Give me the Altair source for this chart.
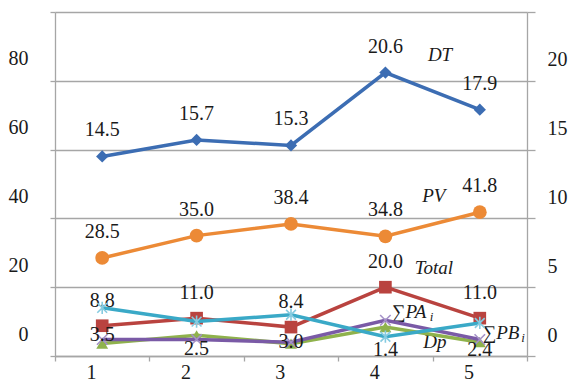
import altair as alt
import pandas as pd

# --- data -------------------------------------------------------------
steps = [1, 2, 3, 4, 5]
dt = [14.5, 15.7, 15.3, 20.6, 17.9]        # right axis
pv = [28.5, 35.0, 38.4, 34.8, 41.8]        # left axis
total = [8.8, 11.0, 8.4, 20.0, 11.0]       # left axis
sum_pb = [3.5, 2.5, 3.0, 1.4, 2.4]         # right axis
sum_pa = [1.2, 1.2, 1.0, 2.6, 1.2]         # right axis
dp = [0.9, 1.5, 0.9, 2.1, 1.0]             # right axis

left_ticks = [0, 20, 40, 60, 80, 100]
right_ticks = [0, 5, 10, 15, 20, 25]
x_edges = [0.5, 1.5, 2.5, 3.5, 4.5, 5.5]

# series name annotations (left-axis coordinates)
ann_text = ["DT", "PV", "Total", "\u2211PA", "Dp", "\u2211PB"]
ann_x = [4.45, 4.39, 4.31, 4.07, 4.40, 5.03]
ann_y = [87.5, 46.5, 25.6, 12.8, 4.1, 6.7]
sub_text = ["i", "i"]
sub_x = [4.47, 5.44]
sub_y = [11.2, 5.1]

# --- style ------------------------------------------------------------
SERIF = "Liberation Serif"
GRID = "#a6a6a6"
INK = "#1a1a1a"

x_axis = alt.Axis(
    values=x_edges,
    labelExpr="datum.value < 5 ? format(datum.value + 0.5, 'd') : ''",
    labelOffset=36, labelPadding=1, labelFlush=False, labelOverlap=False,
    tickSize=5, tickColor=GRID, tickWidth=1.3,
    domainColor=GRID, domainWidth=1.3, grid=False, title=None,
    labelFont=SERIF, labelFontSize=20, labelColor=INK,
)
left_axis = alt.Axis(
    values=left_ticks,
    labelExpr="datum.value == 100 ? '' : datum.label",
    grid=True, gridColor=GRID, gridWidth=1.3,
    tickSize=5, tickColor=GRID, tickWidth=1.3,
    domainColor=GRID, domainWidth=1.3,
    labelPadding=22, labelOffset=-22, labelOverlap=False,
    title=None, labelFont=SERIF, labelFontSize=20, labelColor=INK,
)
right_axis = alt.Axis(
    orient="right", values=right_ticks,
    labelExpr="datum.value == 25 ? '' : datum.label",
    grid=False, tickSize=8, tickColor=GRID, tickWidth=1.3,
    domainColor=GRID, domainWidth=1.3,
    labelPadding=12, labelOffset=-21, labelOverlap=False,
    title=None, labelFont=SERIF, labelFontSize=20, labelColor=INK,
)

left_scale = alt.Scale(domain=[0, 100], nice=False)
right_scale = alt.Scale(domain=[0, 25], nice=False)
x_enc = alt.X("step:Q", scale=alt.Scale(domain=[0.5, 5.5], nice=False, zero=False), axis=x_axis)
y_left = alt.Y("value:Q", scale=left_scale, axis=left_axis)
y_right = alt.Y("value:Q", scale=right_scale, axis=right_axis)

STAR = "M0,-1L0,1M-0.8,-0.8L0.8,0.8M-0.8,0.8L0.8,-0.8"
XMARK = "M-1,-1L1,1M-1,1L1,-1"


def series(values, color, y_enc, shape, size, filled, marker_color=None,
           label_dy=None, below=None):
    df = pd.DataFrame({"step": steps, "value": values})
    base = alt.Chart(df).encode(x=x_enc, y=y_enc)
    layers = [base.mark_line(color=color, strokeWidth=3.5)]
    mc = marker_color or color
    if filled:
        layers.append(base.mark_point(shape=shape, size=size, filled=True,
                                      color=mc, opacity=1))
    else:
        layers.append(base.mark_point(shape=shape, size=size, filled=False,
                                      stroke=mc, strokeWidth=1.6, opacity=1))
    text_style = dict(baseline="middle", font=SERIF, fontSize=20, color=INK)
    if label_dy is not None:
        layers.append(base.mark_text(dy=label_dy, **text_style)
                      .encode(text=alt.Text("value:Q", format=".1f")))
    if below is not None:
        # labels sit under the points, kept inside the plot's lower edge
        scale, axis = below
        layers.append(
            alt.Chart(df)
            .transform_calculate(pos="max(datum.value - 2.0, 0.45)")
            .mark_text(**text_style)
            .encode(x=x_enc,
                    y=alt.Y("pos:Q", scale=scale, axis=axis),
                    text=alt.Text("value:Q", format=".1f"))
        )
    return layers


ann_df = pd.DataFrame({"step": ann_x, "value": ann_y, "label": ann_text})
sub_df = pd.DataFrame({"step": sub_x, "value": sub_y, "label": sub_text})
annotations = [
    alt.Chart(ann_df).mark_text(align="left", baseline="middle", font=SERIF,
                                fontSize=19, fontStyle="italic", color=INK)
    .encode(x=x_enc, y=y_left, text="label:N"),
    alt.Chart(sub_df).mark_text(align="left", baseline="middle", font=SERIF,
                                fontSize=13, fontStyle="italic", color=INK)
    .encode(x=x_enc, y=y_left, text="label:N"),
]

left_group = alt.layer(
    *series(pv, "#ec8a36", y_left, "circle", 190, True, label_dy=-26),
    *series(total, "#b9433f", y_left, "square", 160, True, label_dy=-25),
    *annotations,
)
right_group = alt.layer(
    *series(dt, "#3c6db3", y_right, "diamond", 150, True, label_dy=-26),
    *series(dp, "#8fb24c", y_right, "triangle-up", 140, True),
    *series(sum_pa, "#7a5aa6", y_right, XMARK, 110, False, marker_color="#a592c8"),
    *series(sum_pb, "#3aa9c7", y_right, STAR, 150, False, marker_color="#86cbe0",
            below=(right_scale, right_axis)),
)

chart = (
    alt.layer(left_group, right_group)
    .resolve_scale(y="independent")
    .properties(
        width=472, height=344,
        autosize=alt.AutoSizeParams(type="none"),
        padding={"left": 55, "top": 12, "right": 42, "bottom": 27},
        background="white",
    )
    .configure_view(stroke=None)
)

chart.save("out.html", embed_options={"renderer": "svg", "actions": False})
